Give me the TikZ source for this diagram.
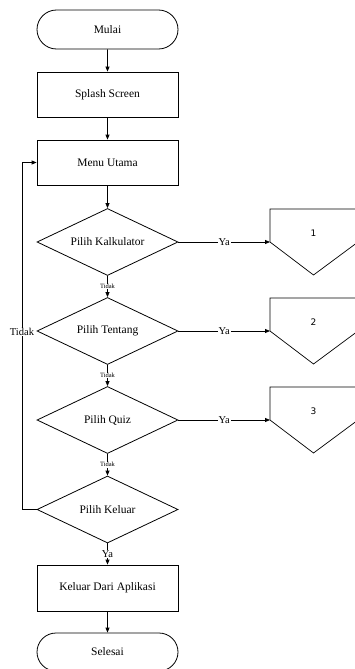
\documentclass[tikz,border=0pt]{standalone}
\usepackage{fontspec}
\setmainfont{Liberation Serif}
\newfontfamily\numfont{DejaVu Sans}
\usetikzlibrary{arrows.meta,shapes.geometric,shapes.misc}
\begin{document}
\begin{tikzpicture}[x=1pt,y=-1pt,
  line width=0.8pt,
  mainfont/.style={font=\fontsize{11.5}{13}\selectfont},
  term/.style={draw, rounded rectangle, minimum width=141pt, minimum height=39pt, inner sep=0pt, mainfont},
  proc/.style={draw, rectangle, minimum width=141pt, minimum height=45pt, inner sep=0pt, mainfont},
  dec/.style={draw, diamond, minimum width=141pt, minimum height=67pt, inner sep=0pt, aspect=2.1, mainfont},
  arr/.style={-{Triangle[length=5pt,width=4pt]}},
  lbl/.style={fill=white, inner sep=0.8pt, font=\fontsize{10.5}{12}\selectfont},
  slbl/.style={fill=white, inner sep=0.5pt, font=\fontsize{6.5}{7}\selectfont},
  offpage/.style={draw, line width=0.7pt, line join=miter},
]
\useasboundingbox (0,0) rectangle (355,669);
\node[term] (mulai) at (107.5,29.5) {Mulai};
\node[proc] (splash) at (107.5,94.5) {Splash Screen};
\node[proc] (menu) at (107.5,162.5) {Menu Utama};
\node[dec] (kalk) at (107.5,242) {Pilih Kalkulator};
\node[dec] (tentang) at (107.5,331) {Pilih Tentang};
\node[dec] (quiz) at (107.5,420) {Pilih Quiz};
\node[dec] (keluar) at (107.5,509.5) {Pilih Keluar};
\node[proc, minimum height=46pt] (exit) at (107.5,588) {Keluar Dari Aplikasi};
\node[term, minimum height=38pt] (selesai) at (107.5,652) {Selesai};

% off-page connectors
\coordinate (c1) at (270,242);
\coordinate (c2) at (270,331);
\coordinate (c3) at (270,420);
\foreach \c/\n in {c1/1,c2/2,c3/3}{
  \draw[offpage] (\c) -- ++(0,-33) -- ++(88,0) -- ++(0,33) -- ++(-44.5,33) -- cycle;
  \node[font=\numfont\fontsize{9}{10}\selectfont] (lab\n) at ([xshift=43.5pt,yshift=9pt]\c) {\n};
}

\draw[arr] (mulai) -- (splash);
\draw[arr] (splash) -- (menu);
\draw[arr] (menu) -- (kalk);
\draw[arr] (kalk) -- node[slbl]{Tidak} (tentang);
\draw[arr] (tentang) -- node[slbl]{Tidak} (quiz);
\draw[arr] (quiz) -- node[slbl]{Tidak} (keluar);
\draw[arr] (keluar) -- node[lbl]{Ya} (exit);
\draw[arr] (exit) -- (selesai);

\draw[arr] (kalk.east) -- node[lbl]{Ya} (c1);
\draw[arr] (tentang.east) -- node[lbl]{Ya} (c2);
\draw[arr] (quiz.east) -- node[lbl]{Ya} (c3);

\coordinate (loopb) at (22,509.5);
\coordinate (loopt) at (22,162.5);
\draw[arr] (keluar.west) -- (loopb) -- node[lbl, pos=0.5, yshift=4pt]{Tidak} (loopt) -- (menu.west);
\end{tikzpicture}
\end{document}
